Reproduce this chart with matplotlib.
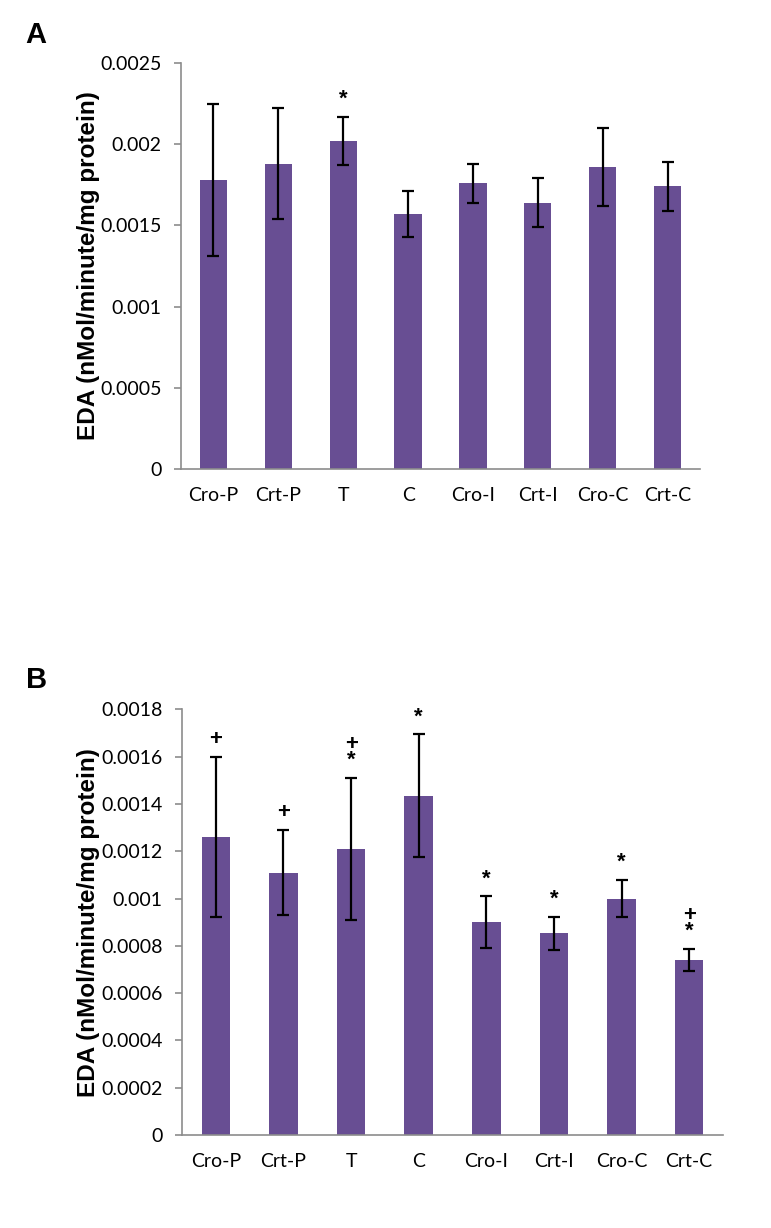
import matplotlib
matplotlib.use("Agg")
import matplotlib.pyplot as plt

# groups shared by both panels
groups = ["Cro-P", "Crt-P", "T", "C", "Cro-I", "Crt-I", "Cro-C", "Crt-C"]

# panel A
eda_a = [0.00178, 0.00188, 0.00202, 0.00157, 0.00176, 0.00164, 0.00186, 0.00174]
err_a = [0.00047, 0.00034, 0.00015, 0.00014, 0.00012, 0.00015, 0.00024, 0.00015]
marks_a = ["", "", "*", "", "", "", "", ""]
ticks_a = [0, 0.0005, 0.001, 0.0015, 0.002, 0.0025]
tick_labels_a = ["0", "0.0005", "0.001", "0.0015", "0.002", "0.0025"]

# panel B
eda_b = [0.00126, 0.00111, 0.00121, 0.001435, 0.00090, 0.000853, 0.00100, 0.00074]
err_b = [0.00034, 0.00018, 0.00030, 0.00026, 0.00011, 0.00007, 0.00008, 0.000047]
marks_b = ["+", "+", "+\n*", "*", "*", "*", "*", "+\n*"]
ticks_b = [0, 0.0002, 0.0004, 0.0006, 0.0008, 0.001, 0.0012, 0.0014, 0.0016, 0.0018]
tick_labels_b = ["0", "0.0002", "0.0004", "0.0006", "0.0008", "0.001",
                 "0.0012", "0.0014", "0.0016", "0.0018"]

BAR_COLOR = "#684e93"
AXIS_COLOR = "#8c8c8c"
W, H = 771, 1228


def draw_panel(ax, values, errors, marks, ticks, tick_labels, label_x):
    x = range(len(groups))
    ax.bar(x, values, width=0.42, color=BAR_COLOR, zorder=2)
    ax.errorbar(x, values, yerr=errors, fmt="none", ecolor="black",
                elinewidth=1.6, capsize=4, capthick=1.6, zorder=3)
    for i, m in enumerate(marks):
        if m:
            ax.annotate(m, xy=(i, values[i] + errors[i]), xytext=(0, 5),
                        textcoords="offset points", ha="center", va="bottom",
                        fontsize=16, fontweight="bold", linespacing=0.7,
                        family="Liberation Sans")
    ax.set_xlim(-0.5, 7.5)
    ax.set_ylim(ticks[0], ticks[-1])
    ax.set_yticks(ticks)
    ax.set_yticklabels(tick_labels)
    ax.set_xticks(list(x))
    ax.set_xticklabels(groups)
    for side in ("top", "right"):
        ax.spines[side].set_visible(False)
    for side in ("left", "bottom"):
        ax.spines[side].set_color(AXIS_COLOR)
        ax.spines[side].set_linewidth(1.2)
    ax.tick_params(axis="y", length=5, width=1.2, color=AXIS_COLOR, pad=9,
                   labelsize=14)
    ax.tick_params(axis="x", length=0, pad=13, labelsize=14)
    for t in ax.get_xticklabels() + ax.get_yticklabels():
        t.set_family("Lato")
    ax.set_ylabel("EDA (nMol/minute/mg protein)", fontsize=17.5,
                  fontweight="bold", family="Liberation Sans")
    ax.yaxis.set_label_coords(label_x, 0.5)


fig = plt.figure(figsize=(W / 100, H / 100), dpi=100)

ax_a = fig.add_axes([181 / W, 1 - 469 / H, 519 / W, 406 / H])
draw_panel(ax_a, eda_a, err_a, marks_a, ticks_a, tick_labels_a, (100 - 181) / 519)

ax_b = fig.add_axes([182 / W, 1 - 1135 / H, 541 / W, 425.6 / H])
draw_panel(ax_b, eda_b, err_b, marks_b, ticks_b, tick_labels_b, (100 - 182) / 541)

fig.text(25 / W, 1 - 43 / H, "A", fontsize=21, fontweight="bold",
         family="Liberation Sans", va="baseline")
fig.text(26 / W, 1 - 688 / H, "B", fontsize=21, fontweight="bold",
         family="Liberation Sans", va="baseline")

fig.savefig("out.png", dpi=100)
